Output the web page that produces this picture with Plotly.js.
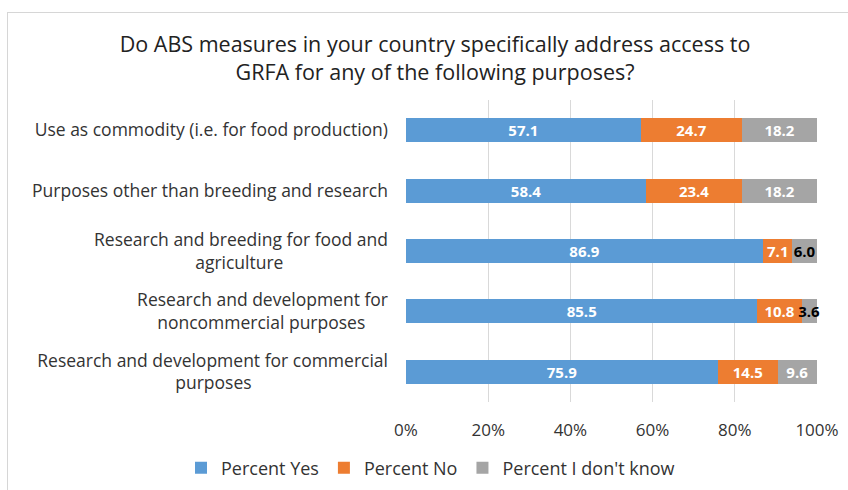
<!DOCTYPE html>
<html>
<head>
<meta charset="utf-8">
<script src="https://cdn.plot.ly/plotly-3.0.1.min.js"></script>
<style>
  html, body { margin: 0; padding: 0; background: #fff; }
  #chart { width: 848px; height: 490px; position: absolute; left: 0; top: 0; }
  #frame { position: absolute; left: 7px; top: 12px; width: 860px; height: 500px;
           border-left: 1px solid #d6d6d6; border-top: 1px solid #d6d6d6; pointer-events: none; }
</style>
</head>
<body>
<div id="chart"></div>
<div id="frame"></div>
<script>
// ---- data ----
const categories = [
  ["Use as commodity (i.e. for food production)"],
  ["Purposes other than breeding and research"],
  ["Research and breeding for food and", "agriculture"],
  ["Research and development for", "noncommercial purposes"],
  ["Research and development for commercial", "purposes"]
];
const seriesNames = ["Percent Yes", "Percent No", "Percent I don't know"];
const percentYes = [57.1, 58.4, 86.9, 85.5, 75.9];
const percentNo = [24.7, 23.4, 7.1, 10.8, 14.5];
const percentDontKnow = [18.2, 18.2, 6.0, 3.6, 9.6];
const xTickVals = [0, 20, 40, 60, 80, 100];
const xTickText = ["0%", "20%", "40%", "60%", "80%", "100%"];
const titleText = "Do ABS measures in your country specifically address access to<br>GRFA for any of the following purposes?";

// ---- styles ----
const FONT = "Open Sans";
const colors = ["#5B9BD5", "#ED7D31", "#A5A5A5"];
const tickFontSize = 17.5;

// centre multi-line tick labels (Plotly right-aligns them) with trailing nbsp padding
const cv = document.createElement("canvas").getContext("2d");
cv.font = tickFontSize + "px '" + FONT + "'";
const nb = cv.measureText("\u00A0").width || 4.5;
function centred(lines) {
  if (lines.length === 1) return lines[0];
  const ws = lines.map(l => cv.measureText(l).width);
  const mx = Math.max(...ws);
  return lines.map((l, i) => l + "\u00A0".repeat(Math.max(0, Math.round((mx - ws[i]) / 2 / nb)))).join("<br>");
}
const yLabels = categories.map(centred);

function fmt(v) { return v.toFixed(1); }
function mk(vals, i, textColors) {
  return {
    type: "bar", orientation: "h", name: seriesNames[i],
    x: vals, y: yLabels,
    marker: { color: colors[i] },
    text: vals.map(fmt), textposition: "inside", insidetextanchor: "middle",
    textangle: 0, cliponaxis: false,
    textfont: { family: FONT, size: 15, color: textColors, weight: "bold" },
    hoverinfo: "skip"
  };
}
const data = [
  mk(percentYes, 0, "#ffffff"),
  mk(percentNo, 1, "#ffffff"),
  mk(percentDontKnow, 2, ["#ffffff", "#ffffff", "#000000", "#000000", "#ffffff"])
];

const layout = {
  width: 848, height: 490,
  margin: { l: 406, r: 31, t: 100, b: 88, autoexpand: false },
  paper_bgcolor: "#ffffff", plot_bgcolor: "#ffffff",
  font: { family: FONT, color: "#333333" },
  barmode: "stack", bargap: 0.6,
  uniformtext: { mode: "show", minsize: 15 },
  title: {
    text: titleText, font: { family: FONT, size: 21.5, color: "#222222" },
    xref: "container", x: 0.513, xanchor: "center",
    yref: "container", y: 1 - 52 / 490, yanchor: "top"
  },
  xaxis: {
    range: [0, 100], tickvals: xTickVals, ticktext: xTickText,
    showgrid: true, gridcolor: "#d9d9d9", gridwidth: 1, zeroline: false,
    showline: false, ticks: "", ticklabelstandoff: 16, automargin: false,
    tickfont: { family: FONT, size: 17, color: "#333333" },
    fixedrange: true
  },
  yaxis: {
    autorange: "reversed", type: "category",
    showgrid: false, zeroline: false, showline: false, ticks: "",
    ticklabelstandoff: 17, automargin: false,
    tickfont: { family: FONT, size: tickFontSize, color: "#333333" },
    fixedrange: true
  },
  showlegend: true,
  legend: {
    orientation: "h", xref: "paper", x: (181 - 406) / 411, xanchor: "left",
    yref: "paper", y: -(468 - 402) / 302, yanchor: "middle",
    itemwidth: 30, bgcolor: "rgba(0,0,0,0)",
    font: { family: FONT, size: 18, color: "#333333" },
    traceorder: "normal"
  }
};

Plotly.newPlot("chart", data, layout, { displayModeBar: false, staticPlot: true });
</script>
</body>
</html>
